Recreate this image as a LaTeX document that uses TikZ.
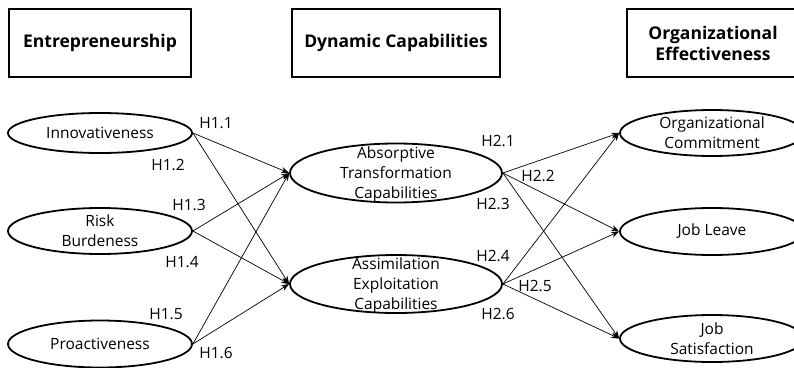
\documentclass[tikz,border=0pt]{standalone}
\usepackage{fontspec}
\setmainfont{Open Sans}
\usetikzlibrary{shapes.geometric,arrows.meta}
\begin{document}
\begin{tikzpicture}[x=1pt,y=-1pt,
  hdr/.style={draw,line width=1.6pt,minimum height=68pt,inner sep=0pt,align=center,
     font=\fontsize{17.5}{21}\selectfont\bfseries},
  oval/.style={draw,ellipse,line width=1.8pt,inner sep=0pt},
  otext/.style={align=center,inner sep=0pt,font=\fontsize{15.5}{20}\selectfont},
  hyp/.style={inner sep=0pt,font=\fontsize{15.5}{16}\selectfont},
  link/.style={line width=0.7pt,-{Stealth[length=8pt,width=6pt]}}]
\useasboundingbox (0,0) rectangle (794,367);
\clip (0,0) rectangle (794,367);
% header boxes
\node[hdr,minimum width=182pt] (h1) at (100,43) {Entrepreneurship};
\node[hdr,minimum width=208pt] (h2) at (396,43) {Dynamic Capabilities};
\node[hdr,minimum width=172pt] (h3) at (713,43) {Organizational\\Effectiveness};
% ellipses
\node[oval,minimum width=184pt,minimum height=40pt] (inn) at (100,133) {};
\node[oval,minimum width=184pt,minimum height=46pt] (risk) at (100,231) {};
\node[oval,minimum width=184pt,minimum height=47pt] (pro) at (100,344) {};
\node[oval,minimum width=212pt,minimum height=59pt] (abs) at (396,173) {};
\node[oval,minimum width=212pt,minimum height=58pt] (ass) at (396,284) {};
\node[oval,minimum width=184pt,minimum height=46pt] (oc) at (712,133) {};
\node[oval,minimum width=184pt,minimum height=47pt] (jl) at (712,231.5) {};
\node[oval,minimum width=184pt,minimum height=47pt] (js) at (712,338.5) {};
% ellipse texts
\node[otext] (tinn) at (inn) {Innovativeness};
\node[otext] (trisk) at (risk) {Risk\\Burdeness};
\node[otext] (tpro) at (pro) {Proactiveness};
\node[otext] (tabs) at (396,174) {Absorptive\\Transformation\\Capabilities};
\node[otext] (tass) at (396,285) {Assimilation\\Exploitation\\Capabilities};
\node[otext] (toc) at (712,133) {Organizational\\Commitment};
\node[otext] (tjl) at (jl) {Job Leave};
\node[otext] (tjs) at (712,338.5) {Job\\Satisfaction};
% connectors
\draw[link] (inn.east) -- (abs.west);
\draw[link] (inn.east) -- (ass.west);
\draw[link] (risk.east) -- (abs.west);
\draw[link] (risk.east) -- (ass.west);
\draw[link] (pro.east) -- (abs.west);
\draw[link] (pro.east) -- (ass.west);
\draw[link] (abs.east) -- (oc.west);
\draw[link] (abs.east) -- (jl.west);
\draw[link] (abs.east) -- (js.west);
\draw[link] (ass.east) -- (oc.west);
\draw[link] (ass.east) -- (jl.west);
\draw[link] (ass.east) -- (js.west);
% hypothesis labels
\node[hyp] (l11) at (216,123) {H1.1};
\node[hyp] (l12) at (168,165) {H1.2};
\node[hyp] (l13) at (189,205) {H1.3};
\node[hyp] (l14) at (182,262) {H1.4};
\node[hyp] (l15) at (166,314) {H1.5};
\node[hyp] (l16) at (216,353) {H1.6};
\node[hyp] (l21) at (498,141) {H2.1};
\node[hyp] (l22) at (538,176) {H2.2};
\node[hyp] (l23) at (493,204) {H2.3};
\node[hyp] (l24) at (493,256) {H2.4};
\node[hyp] (l25) at (535,286) {H2.5};
\node[hyp] (l26) at (498,314) {H2.6};
\end{tikzpicture}
\end{document}
